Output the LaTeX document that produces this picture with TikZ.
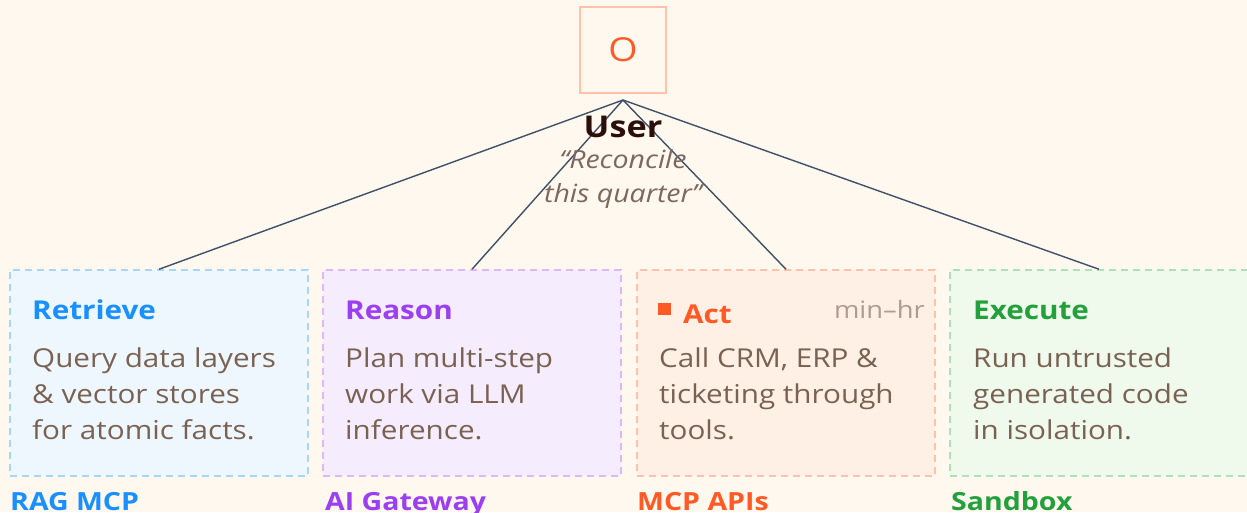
\documentclass[tikz,border=0pt]{standalone}
\usepackage{fontspec}
\setmainfont{Open Sans}[FakeStretch=1.14]
\definecolor{bg}{HTML}{FFF8EE}
\definecolor{wire}{HTML}{3F5068}
\definecolor{body}{HTML}{7A6253}
\definecolor{muted}{HTML}{B09B8F}
\definecolor{usercol}{HTML}{2B0F0A}
\definecolor{quote}{HTML}{7D685D}
\definecolor{blueT}{HTML}{1A90FF}\definecolor{blueF}{HTML}{EEF7FE}\definecolor{blueD}{HTML}{A8D6FB}
\definecolor{purpT}{HTML}{9B3FF0}\definecolor{purpF}{HTML}{F5EDFD}\definecolor{purpD}{HTML}{DDB7FA}
\definecolor{oranT}{HTML}{FF5A26}\definecolor{oranF}{HTML}{FFF0E6}\definecolor{oranD}{HTML}{FFC2A8}
\definecolor{grenT}{HTML}{22A03C}\definecolor{grenF}{HTML}{EFF9EC}\definecolor{grenD}{HTML}{B0E0B9}
\tikzset{
  card/.style={rectangle, minimum width=298pt, minimum height=206pt, inner sep=0pt,
    line width=1.5pt, dash pattern=on 7pt off 5pt},
  ttl/.style={anchor=base west, inner sep=0pt, font=\fontsize{26}{32}\selectfont\bfseries},
  txt/.style={anchor=base west, inner sep=0pt, align=left, text=body,
    font=\fontsize{26}{36}\selectfont},
  tag/.style={anchor=base west, inner sep=0pt, font=\fontsize{25}{30}\selectfont\bfseries},
  wireline/.style={draw=wire, line width=1.4pt}
}
\begin{document}
\begin{tikzpicture}[x=1pt,y=-1pt]
\useasboundingbox (0,0) rectangle (1247,512);
\clip (0,0) rectangle (1247,512);
\fill[bg] (0,0) rectangle (1247,512);

% orchestrator
\node[draw=oranD, line width=1.5pt, minimum width=86pt, minimum height=86pt, inner sep=0pt,
      text=oranT, font=\fontsize{33}{40}\selectfont] (orch) at (623,50) {O};
\coordinate (apex) at (623,100);

% stage cards
\node[card, fill=blueF, draw=blueD] (ret) at (159,373) {};
\node[card, fill=purpF, draw=purpD] (rea) at (472,373) {};
\node[card, fill=oranF, draw=oranD] (act) at (786,373) {};
\node[card, fill=grenF, draw=grenD] (exe) at (1099,373) {};

% connectors
\draw[wireline] (apex) -- (ret.north);
\draw[wireline] (apex) -- (rea.north);
\draw[wireline] (apex) -- (act.north);
\draw[wireline] (apex) -- (exe.north);

% user request
\node[inner sep=0pt, anchor=base, text=usercol, font=\fontsize{30}{36}\selectfont\bfseries] (user) at (623,137) {User};
\node[inner sep=0pt, anchor=base, text=quote, align=center, font=\fontsize{25}{34}\selectfont\itshape] (req) at (623,202) {“Reconcile\\this quarter”};

% Retrieve
\node[ttl, text=blueT] (retT) at (32,319) {Retrieve};
\node[txt] (retB) at (32,439) {Query data layers\\\& vector stores\\for atomic facts.};
\node[tag, text=blueT] (retL) at (10,510) {RAG MCP};

% Reason
\node[ttl, text=purpT] (reaT) at (345,319) {Reason};
\node[txt] (reaB) at (345,439) {Plan multi-step\\work via LLM\\inference.};
\node[tag, text=purpT] (reaL) at (325,510) {AI Gateway};

% Act
\fill[oranT] (658,303) rectangle (671,315);
\node[ttl, text=oranT] (actT) at (683,323) {Act};
\node[anchor=base east, inner sep=0pt, text=muted, font=\fontsize{24}{30}\selectfont] (actM) at (925,318) {min–hr};
\node[txt] (actB) at (659,439) {Call CRM, ERP \&\\ticketing through\\tools.};
\node[tag, text=oranT] (actL) at (637,510) {MCP APIs};

% Execute
\node[ttl, text=grenT] (exeT) at (973,319) {Execute};
\node[txt] (exeB) at (973,439) {Run untrusted\\generated code\\in isolation.};
\node[tag, text=grenT] (exeL) at (951,510) {Sandbox};
\end{tikzpicture}
\end{document}
